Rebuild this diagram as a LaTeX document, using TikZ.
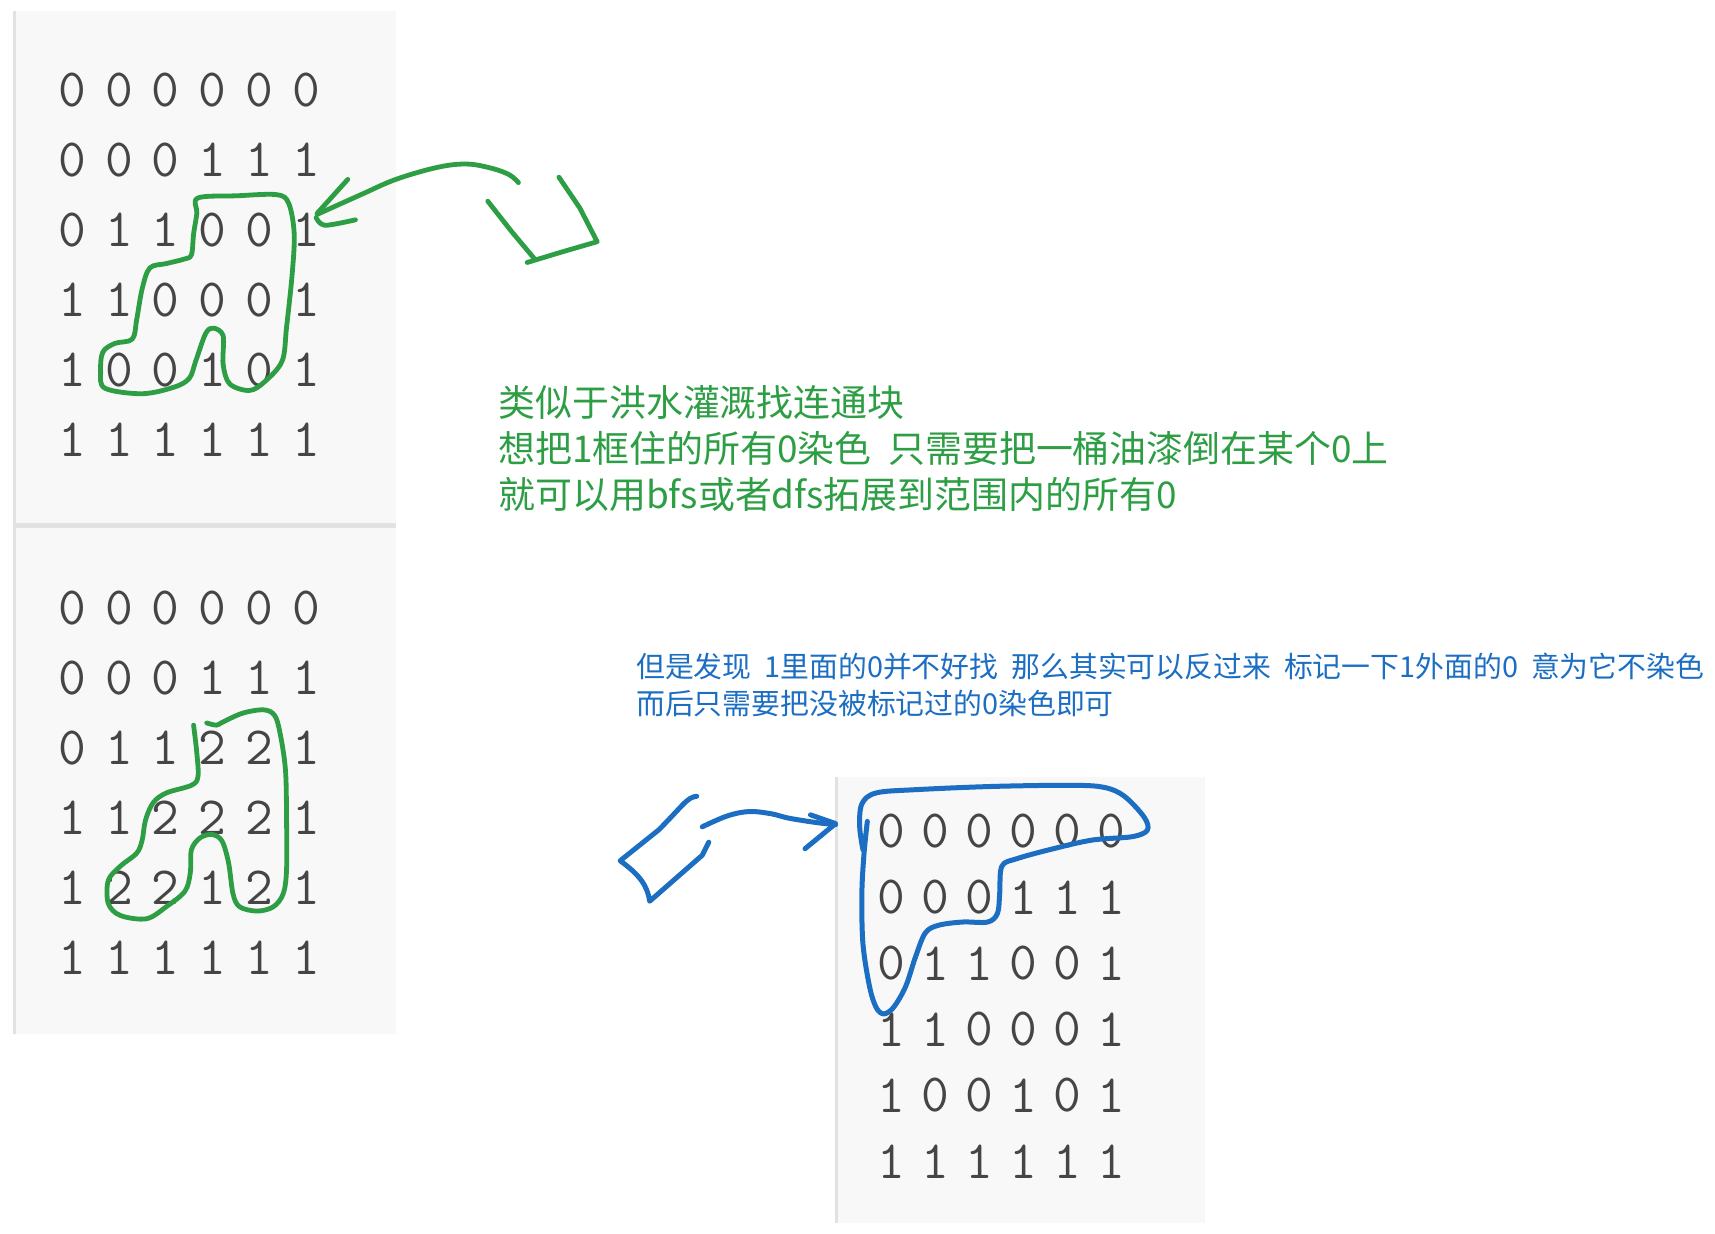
\documentclass[tikz,border=0pt]{standalone}
\usepackage{fontspec}
\newfontfamily\cjkfont{Noto Sans CJK SC}
\definecolor{pengreen}{HTML}{2E9E45}
\definecolor{penblue}{HTML}{1B6EC2}
\definecolor{panelbg}{HTML}{F8F8F8}
\definecolor{panelrule}{HTML}{E2E2E2}
\definecolor{digitgray}{HTML}{454545}

\begin{document}
\begin{tikzpicture}[
  x=0.01cm, y=-0.01cm,
  cell/.style={inner sep=0pt, text=digitgray, font=\ttfamily\fontsize{14}{14}\selectfont},
  greennote/.style={anchor=base west, inner sep=0pt, text=pengreen, font=\cjkfont\fontsize{9.6}{12}\selectfont},
  bluenote/.style={anchor=base west, inner sep=0pt, text=penblue, font=\cjkfont\fontsize{7.5}{9.5}\selectfont},
  greenpen/.style={draw=pengreen, line width=1.25pt, line cap=round, line join=round},
  bluepen/.style={draw=penblue, line width=1.3pt, line cap=round, line join=round},
]
\useasboundingbox (0,0) rectangle (1568,1128);

% panels
\fill[panelbg] (12,10) rectangle (362,945);
\fill[panelrule] (12,10) rectangle (15,945);
\fill[panelrule] (12,478) rectangle (362,483);
\fill[panelbg] (763,710) rectangle (1102,1118);
\fill[panelrule] (763,710) rectangle (766,1118);

% grids
\foreach \row [count=\r] in {{0,0,0,0,0,0},{0,0,0,1,1,1},{0,1,1,0,0,1},{1,1,0,0,0,1},{1,0,0,1,0,1},{1,1,1,1,1,1}}
  \foreach \d [count=\c] in \row {
    \node[cell] (a-\r-\c) at ({66+42.8*(\c-1)}, {82+64*(\r-1)}) {\d};
    \node[cell] (c-\r-\c) at ({815+40.2*(\c-1)}, {760+60.4*(\r-1)}) {\d};
  }
\foreach \row [count=\r] in {{0,0,0,0,0,0},{0,0,0,1,1,1},{0,1,1,2,2,1},{1,1,2,2,2,1},{1,2,2,1,2,1},{1,1,1,1,1,1}}
  \foreach \d [count=\c] in \row
    \node[cell] (b-\r-\c) at ({66+42.8*(\c-1)}, {556+64*(\r-1)}) {\d};

% notes
\node[greennote] (idea1) at (455,381) {类似于洪水灌溉找连通块};
\node[greennote] (idea2) at (455,423) {想把1框住的所有0染色\hspace{0.45em}只需要把一桶油漆倒在某个0上};
\node[greennote] (idea3) at (455,465) {就可以用bfs或者dfs拓展到范围内的所有0};
\node[bluenote] (trick1) at (581,619) {但是发现\hspace{0.45em}1里面的0并不好找\hspace{0.45em}那么其实可以反过来\hspace{0.45em}标记一下1外面的0\hspace{0.45em}意为它不染色};
\node[bluenote] (trick2) at (581,653) {而后只需要把没被标记过的0染色即可};

% green pen strokes
\draw[greenpen] plot[smooth cycle, tension=0.55] coordinates {
  (181,181) (217,179) (253,178) (264,186) (269,214) (267,252) (262,299) (258,330)
  (242,349) (228,357) (210,351) (204,333) (204,307) (195,300) (188,305) (179,330)
  (173,346) (159,354) (130,360) (96,355) (92,340) (94,322) (105,314) (121,310)
  (125,292) (130,264) (137,245) (152,241) (168,237) (175,233) (177,214) (180,195)};
\draw[greenpen] plot[smooth, tension=0.6] coordinates {
  (290,196) (330,178) (362,164) (400,153) (427,150) (450,154) (466,160) (474,167)};
\draw[greenpen] (318,164) -- (290,195);
\draw[greenpen] plot[smooth] coordinates {(289,199) (297,206) (325,201)};
\draw[greenpen] (446,184) -- (468,212) -- (489,237);
\draw[greenpen] (482,240) -- (515,230) -- (546,221) -- (530,190) -- (511,162);
\draw[greenpen] plot[smooth, tension=0.55] coordinates {
  (177,663) (180,689) (181,710) (175,718) (152,725) (140,734) (133,750) (130,768)
  (125,780) (110,792) (99,805) (99,826) (110,837) (134,840) (152,829) (169,815)
  (174,798) (175,777) (183,766) (194,763) (203,769) (209,789) (213,817) (219,829)
  (235,833) (250,829) (259,817) (262,795) (262,750) (261,704) (256,670) (251,654)
  (241,649) (222,652) (204,660) (198,663) (189,661)};

% blue pen strokes
\draw[bluepen] plot[smooth, tension=0.55] coordinates {
  (793,751) (790,780) (788,817) (789,863) (795,902) (801,921) (808,927) (817,921)
  (828,902) (837,875) (846,853) (858,846) (880,843) (903,843) (912,835) (914,817)
  (916,792) (930,785) (963,776) (999,768) (1035,765) (1049,759) (1046,747) (1028,728)
  (1010,720) (981,718) (909,719) (837,722) (801,725) (788,735) (786,756) (789,777)};
\draw[bluepen] plot[smooth, tension=0.6] coordinates {
  (642,756) (665,746) (685,742) (705,744) (721,748) (746,752) (764,754)};
\draw[bluepen] (741,745) -- (764,753) -- (736,776);
\draw[bluepen] (637,728) .. controls (628,729) and (625,736) .. (602,759) -- (567,787)
  .. controls (585,800) and (592,810) .. (594,824) -- (642,782) -- (648,770);
\end{tikzpicture}
\end{document}
